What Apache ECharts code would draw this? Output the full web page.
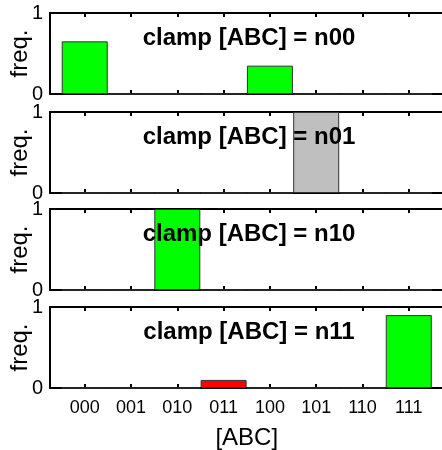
<!DOCTYPE html>
<html>
<head>
<meta charset="utf-8">
<script src="https://cdn.jsdelivr.net/npm/echarts@6/dist/echarts.min.js"></script>
<style>html,body{margin:0;padding:0;background:#fff}#c{width:442px;height:450px}</style>
</head>
<body>
<div id="c"></div>
<script>
// ---- data ----
var categories = ['000', '001', '010', '011', '100', '101', '110', '111'];
var panelTitles = ['clamp [ABC] = n00', 'clamp [ABC] = n01', 'clamp [ABC] = n10', 'clamp [ABC] = n11'];
var freqN00 = [0.65, 0, 0, 0, 0.35, 0, 0, 0];
var freqN01 = [0, 0, 0, 0, 0, 1, 0, 0];
var freqN10 = [0, 0, 1, 0, 0, 0, 0, 0];
var freqN11 = [0, 0, 0, 0.1, 0, 0, 0, 0.9];
var colorsN00 = ['g', 'g', 'g', 'g', 'g', 'g', 'g', 'g'];
var colorsN01 = ['k', 'k', 'k', 'k', 'k', 'k', 'k', 'k'];
var colorsN10 = ['g', 'g', 'g', 'g', 'g', 'g', 'g', 'g'];
var colorsN11 = ['g', 'g', 'g', 'r', 'g', 'g', 'g', 'g'];
var yTicks = [0, 1];
var xLabel = '[ABC]';
var yLabel = 'freq.';

// ---- styling ----
var palette = { g: '#00ff00', r: '#ff0000', k: '#bfbfbf' };
var FONT = 'Liberation Sans, Arial, Helvetica, sans-serif';
var panels = [
  { vals: freqN00, cols: colorsN00 },
  { vals: freqN01, cols: colorsN01 },
  { vals: freqN10, cols: colorsN10 },
  { vals: freqN11, cols: colorsN11 }
];
var tops = [13, 112, 209, 307];
var H = 81;
var LEFT = 50, WIDTH = 393.5;
var catIdx = categories.map(function (c, i) { return i; });

var grid = [], xAxis = [], yAxis = [], series = [], graphic = [];
panels.forEach(function (p, k) {
  var last = k === panels.length - 1;
  grid.push({ left: LEFT, top: tops[k], width: WIDTH, height: H, containLabel: false, outerBoundsMode: 'none' });
  xAxis.push({
    type: 'value', gridIndex: k, min: -0.75, max: 7.75, position: 'bottom',
    splitLine: { show: false },
    axisLine: { show: true, onZero: false, lineStyle: { color: '#000', width: 2 } },
    axisTick: { show: true, inside: true, length: 4, customValues: catIdx, lineStyle: { color: '#000', width: 2 } },
    axisLabel: {
      show: last, customValues: catIdx, margin: 11, color: '#000', fontSize: 18, fontFamily: FONT,
      formatter: function (v) { return categories[Math.round(v)]; }
    },
    name: last ? xLabel : '', nameLocation: 'middle', nameGap: 38, nameMoveOverlap: false,
    nameTextStyle: { color: '#000', fontSize: 24, fontFamily: FONT }
  });
  xAxis.push({
    type: 'value', gridIndex: k, min: -0.75, max: 7.75, position: 'top',
    splitLine: { show: false },
    axisLine: { show: true, onZero: false, lineStyle: { color: '#000', width: 2 } },
    axisTick: { show: true, inside: true, length: 4, customValues: catIdx, lineStyle: { color: '#000', width: 2 } },
    axisLabel: { show: false }
  });
  yAxis.push({
    type: 'value', gridIndex: k, min: 0, max: 1, interval: 1, position: 'left',
    splitLine: { show: false },
    axisLine: { show: true, onZero: false, lineStyle: { color: '#000', width: 2 } },
    axisTick: { show: false },
    axisLabel: { color: '#000', fontSize: 20, fontFamily: FONT, margin: 7, customValues: yTicks },
    name: yLabel, nameLocation: 'middle', nameRotate: 90, nameGap: 18, nameMoveOverlap: false,
    nameTextStyle: { color: '#000', fontSize: 24, fontFamily: FONT }
  });
  series.push({
    type: 'bar', xAxisIndex: 2 * k, yAxisIndex: k, barWidth: 46, silent: true,
    data: p.vals.map(function (v, i) {
      return { value: [i, v], itemStyle: { color: palette[p.cols[i]], borderColor: '#333', borderWidth: 1 } };
    }),
    z: 2
  });
  graphic.push({
    type: 'text', z: 100,
    style: {
      text: panelTitles[k], x: 249, y: tops[k] + 25, align: 'center', verticalAlign: 'middle',
      font: 'bold 24px ' + FONT, fill: '#000'
    }
  });
});

var chart = echarts.init(document.getElementById('c'), null, { renderer: 'canvas' });
chart.setOption({
  animation: false,
  backgroundColor: '#fff',
  grid: grid, xAxis: xAxis, yAxis: yAxis, series: series, graphic: graphic
});
</script>
</body>
</html>
